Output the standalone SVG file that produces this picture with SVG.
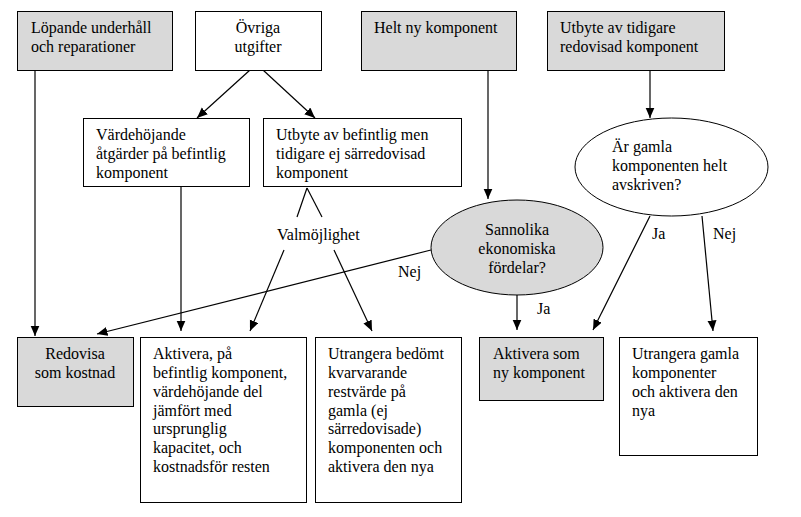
<svg xmlns="http://www.w3.org/2000/svg" width="801" height="517" viewBox="0 0 801 517">
<defs>
<marker id="ah" markerUnits="userSpaceOnUse" markerWidth="11" markerHeight="10" refX="10.5" refY="4.5" orient="auto">
<path d="M0,0 L10.5,4.5 L0,9 z" fill="#000"/>
</marker>
</defs>
<style>
.b{fill:#fff;stroke:#000;stroke-width:1}
.g{fill:#d9d9d9;stroke:#000;stroke-width:1}
text{font-family:"Liberation Serif","Times New Roman",serif;font-size:16px;fill:#000}
.c{text-anchor:middle}
.l{stroke:#000;stroke-width:1.2;fill:none}
.a{stroke:#000;stroke-width:1.2;fill:none;marker-end:url(#ah)}
</style>
<rect width="801" height="517" fill="#fff"/>
<g id="connectors">
<line class="a" x1="35" y1="70" x2="35" y2="336"/>
<line class="a" x1="250" y1="70" x2="197" y2="118"/>
<line class="a" x1="263" y1="70" x2="315" y2="118"/>
<line class="a" x1="181" y1="187" x2="181" y2="331"/>
<line class="l" x1="307" y1="188" x2="297" y2="217"/>
<line class="l" x1="307" y1="188" x2="322" y2="217"/>
<line class="a" x1="284" y1="250" x2="250" y2="331"/>
<line class="a" x1="334" y1="250" x2="372" y2="331"/>
<line class="a" x1="431" y1="250" x2="97" y2="334"/>
<line class="a" x1="488" y1="70" x2="488" y2="199"/>
<line class="a" x1="650" y1="70" x2="650" y2="118"/>
<line class="a" x1="517" y1="295" x2="517" y2="330"/>
<line class="a" x1="650" y1="216" x2="593" y2="330"/>
<line class="a" x1="702" y1="216" x2="713" y2="331"/>
<text x="277" y="240">Valmöjlighet</text>
<text x="398" y="277">Nej</text>
<text x="537" y="314">Ja</text>
<text x="652" y="239">Ja</text>
<text x="713" y="239">Nej</text>
</g>
<g id="lopande">
<rect class="g" x="17.5" y="11.5" width="155" height="59"/>
<text x="31" y="33">Löpande underhåll</text>
<text x="31" y="52">och reparationer</text>
</g>
<g id="ovriga">
<rect class="b" x="195.5" y="11.5" width="126" height="59"/>
<text class="c" x="258" y="33">Övriga</text>
<text class="c" x="258" y="52">utgifter</text>
</g>
<g id="heltny">
<rect class="g" x="361.5" y="11.5" width="155" height="59"/>
<text x="374" y="33">Helt ny komponent</text>
</g>
<g id="utbytetidigare">
<rect class="g" x="547.5" y="11.5" width="177" height="59"/>
<text x="560" y="33">Utbyte av tidigare</text>
<text x="560" y="52">redovisad komponent</text>
</g>
<g id="vardehojande">
<rect class="b" x="83.5" y="118.5" width="166" height="68"/>
<text x="96" y="140">Värdehöjande</text>
<text x="96" y="159">åtgärder på befintlig</text>
<text x="96" y="178">komponent</text>
</g>
<g id="utbytebefintlig">
<rect class="b" x="263.5" y="118.5" width="198" height="68"/>
<text x="276" y="140">Utbyte av befintlig men</text>
<text x="276" y="159">tidigare ej särredovisad</text>
<text x="276" y="178">komponent</text>
</g>
<g id="argamla">
<ellipse class="b" cx="671.5" cy="167" rx="96.5" ry="49"/>
<text x="612" y="152">Är gamla</text>
<text x="612" y="171">komponenten helt</text>
<text x="612" y="190">avskriven?</text>
</g>
<g id="sannolika">
<ellipse class="g" cx="517" cy="247.5" rx="86" ry="47.5"/>
<text class="c" x="517" y="235">Sannolika</text>
<text class="c" x="517" y="254">ekonomiska</text>
<text class="c" x="517" y="273">fördelar?</text>
</g>
<g id="redovisa">
<rect class="g" x="17.5" y="337.5" width="116" height="69"/>
<text class="c" x="75" y="359">Redovisa</text>
<text class="c" x="75" y="378">som kostnad</text>
</g>
<g id="aktiverapa">
<rect class="b" x="140.5" y="337.5" width="166" height="165"/>
<text x="153" y="359">Aktivera, på</text>
<text x="153" y="378">befintlig komponent,</text>
<text x="153" y="397">värdehöjande del</text>
<text x="153" y="416">jämfört med</text>
<text x="153" y="434">ursprunglig</text>
<text x="153" y="453">kapacitet, och</text>
<text x="153" y="472">kostnadsför resten</text>
</g>
<g id="utrangerabedomt">
<rect class="b" x="315.5" y="337.5" width="146" height="165"/>
<text x="328" y="359">Utrangera bedömt</text>
<text x="328" y="378">kvarvarande</text>
<text x="328" y="397">restvärde på</text>
<text x="328" y="416">gamla (ej</text>
<text x="328" y="434">särredovisade)</text>
<text x="328" y="453">komponenten och</text>
<text x="328" y="472">aktivera den nya</text>
</g>
<g id="aktiverasomny">
<rect class="g" x="479.5" y="337.5" width="124" height="63"/>
<text x="493" y="359">Aktivera som</text>
<text x="493" y="378">ny komponent</text>
</g>
<g id="utrangeragamla">
<rect class="b" x="619.5" y="337.5" width="138" height="118"/>
<text x="632" y="359">Utrangera gamla</text>
<text x="632" y="378">komponenter</text>
<text x="632" y="397">och aktivera den</text>
<text x="632" y="416">nya</text>
</g>
</svg>
